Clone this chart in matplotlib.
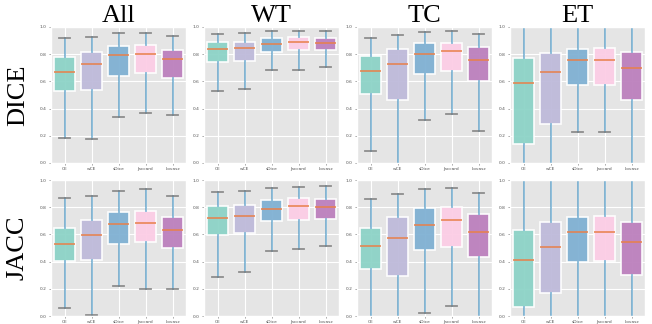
import matplotlib
matplotlib.use("Agg")
import matplotlib.pyplot as plt

plt.style.use("ggplot")

losses = ["CE", "wCE", "sDice", "Jaccard", "Lovasz"]
regions = ["All", "WT", "TC", "ET"]
metrics = ["DICE", "JACC"]
colors = ["#8dd3c7", "#bebada", "#80b1d3", "#fccde5", "#bc80bd"]

# box stats per loss: (whislo, q1, med, q3, whishi)
dice_all = [(0.184, 0.532, 0.672, 0.777, 0.919), (0.176, 0.537, 0.728, 0.816, 0.926),
            (0.338, 0.640, 0.794, 0.860, 0.953), (0.365, 0.664, 0.801, 0.868, 0.956),
            (0.353, 0.623, 0.765, 0.833, 0.934)]
dice_wt = [(0.529, 0.743, 0.838, 0.890, 0.951), (0.544, 0.752, 0.846, 0.892, 0.956),
           (0.684, 0.819, 0.875, 0.917, 0.968), (0.684, 0.828, 0.890, 0.926, 0.971),
           (0.706, 0.831, 0.882, 0.919, 0.971)]
dice_tc = [(0.088, 0.507, 0.679, 0.789, 0.919), (-0.02, 0.463, 0.728, 0.838, 0.941),
           (0.319, 0.652, 0.801, 0.882, 0.961), (0.360, 0.674, 0.824, 0.885, 0.968),
           (0.235, 0.605, 0.757, 0.853, 0.949)]
dice_et = [(-0.02, 0.137, 0.588, 0.770, 1.02), (-0.02, 0.289, 0.672, 0.811, 1.02),
           (0.228, 0.571, 0.757, 0.838, 1.02), (0.225, 0.576, 0.757, 0.846, 1.02),
           (-0.02, 0.466, 0.696, 0.816, 1.02)]
jacc_all = [(0.057, 0.408, 0.533, 0.649, 0.865), (0.007, 0.413, 0.592, 0.703, 0.880),
            (0.221, 0.533, 0.673, 0.762, 0.916), (0.201, 0.541, 0.681, 0.774, 0.931),
            (0.197, 0.499, 0.629, 0.727, 0.882)]
jacc_wt = [(0.289, 0.596, 0.723, 0.809, 0.909), (0.321, 0.608, 0.735, 0.814, 0.919),
           (0.476, 0.699, 0.789, 0.855, 0.944), (0.493, 0.708, 0.809, 0.868, 0.946),
           (0.512, 0.716, 0.799, 0.858, 0.956)]
jacc_tc = [(-0.02, 0.342, 0.516, 0.649, 0.857), (-0.02, 0.297, 0.575, 0.727, 0.894),
           (0.022, 0.482, 0.671, 0.794, 0.936), (0.074, 0.506, 0.703, 0.799, 0.943),
           (-0.02, 0.435, 0.614, 0.752, 0.907)]
jacc_et = [(-0.02, 0.066, 0.415, 0.629, 1.02), (-0.02, 0.167, 0.509, 0.688, 1.02),
           (-0.02, 0.400, 0.614, 0.725, 1.02), (-0.02, 0.405, 0.614, 0.737, 1.02),
           (-0.02, 0.302, 0.541, 0.693, 1.02)]

grid = [[dice_all, dice_wt, dice_tc, dice_et],
        [jacc_all, jacc_wt, jacc_tc, jacc_et]]

fig = plt.figure(figsize=(6.52, 3.24), dpi=100)
fig.patch.set_facecolor("white")

left0, width, step = 51 / 652, 135 / 652, 153 / 652
bottoms = [1 - 163 / 324, 1 - 316 / 324]
height = 136 / 324

for r, row in enumerate(grid):
    for c, data in enumerate(row):
        ax = fig.add_axes([left0 + c * step, bottoms[r], width, height])
        stats = [dict(label=lab, whislo=d[0], q1=d[1], med=d[2], q3=d[3], whishi=d[4])
                 for lab, d in zip(losses, data)]
        bp = ax.bxp(stats, showfliers=False, widths=0.8, patch_artist=True,
                    capwidths=0.4,
                    boxprops=dict(edgecolor=(1, 1, 1, 0.5), linewidth=1.2),
                    whiskerprops=dict(color="#348ABD", alpha=0.6, linewidth=1.3),
                    capprops=dict(color="#777777", alpha=0.8, linewidth=1.3),
                    medianprops=dict(color="#e8804a", alpha=0.85, linewidth=1.3))
        for patch, col in zip(bp["boxes"], colors):
            patch.set_facecolor(col)
            patch.set_alpha(0.95)
        ax.set_ylim(0, 1.0)
        ax.set_yticks([0.0, 0.2, 0.4, 0.6, 0.8, 1.0])
        ax.tick_params(labelsize=3.2, length=1.5, width=0.5, pad=1.5, colors="#777777")
        for lab in ax.get_xticklabels() + ax.get_yticklabels():
            lab.set_color("#555555")
        if r == 0:
            ax.set_title(regions[c], fontsize=19, family="Liberation Serif",
                         color="black", pad=3)
        if c == 0:
            fig.text(18 / 652, bottoms[r] + height / 2, metrics[r], rotation=90,
                     ha="center", va="center", fontsize=19, family="Liberation Serif")

fig.savefig("out.png", dpi=100)
